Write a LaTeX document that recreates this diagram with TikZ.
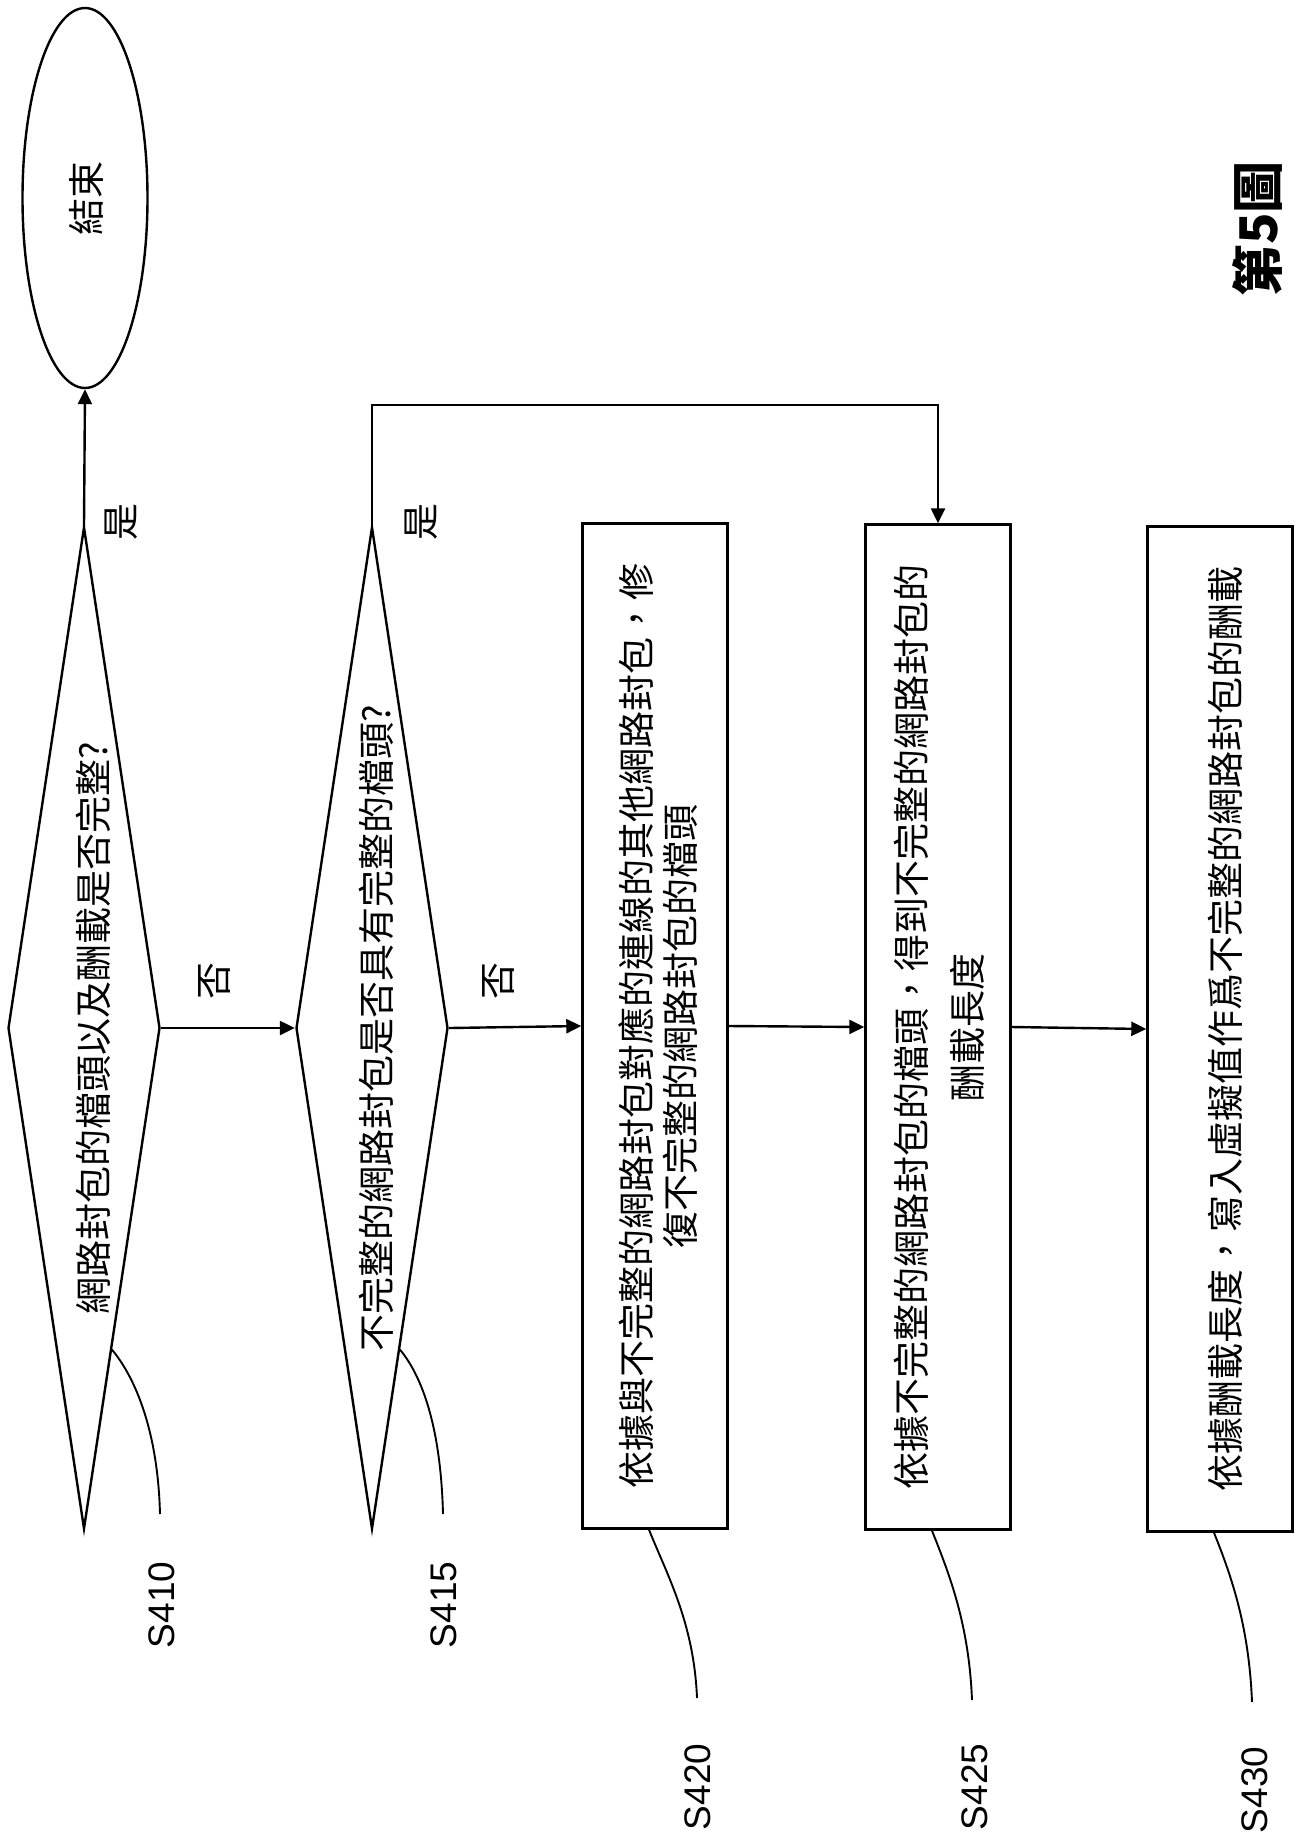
\documentclass[tikz,border=0pt]{standalone}
\usepackage{fontspec}
\usepackage{graphicx}
\setmainfont{Noto Sans CJK TC}
\newfontfamily\labfont{Liberation Sans}
\usetikzlibrary{arrows.meta,shapes.geometric,calc}
\newcommand{\vtxt}[2][6pt]{\rotatebox{90}{\raisebox{-#1}[\height][\depth]{%
  \begin{tabular}{@{}c@{}}#2\end{tabular}}}}
\tikzset{
  stepbox/.style={draw,line width=2.4pt,inner sep=0pt,
                  minimum width=145pt,minimum height=1005pt},
  decide/.style={draw,diamond,line width=2.4pt,inner sep=0pt,aspect=0.153,
                 minimum width=152pt,minimum height=1002pt},
  endnode/.style={draw,ellipse,line width=2.4pt,inner sep=0pt,
                  minimum width=125pt,minimum height=380pt},
  yn/.style={rotate=90,inner sep=0pt},
  steplbl/.style={rotate=90,inner sep=0pt,font=\labfont\fontsize{37}{40}\selectfont},
  fl/.style={line width=2.4pt,-{Triangle[length=15pt,width=14pt]}},
  lead/.style={line width=1.9pt},
}
\begin{document}
\begin{tikzpicture}[x=1pt,y=-1pt,font=\fontsize{37}{42}\selectfont]
  \useasboundingbox (0,0) rectangle (1306,1839);
  \node[endnode] (end) at (85,198) {\vtxt{結束}};
  \node[decide] (d1) at (84,1028) {\vtxt[14pt]{網路封包的檔頭以及酬載是否完整?}};
  \node[decide] (d2) at (372,1028) {\vtxt[9pt]{不完整的網路封包是否具有完整的檔頭?}};
  \node[stepbox] (b1) at (655,1026)
    {\vtxt[8pt]{依據與不完整的網路封包對應的連線的其他網路封包，修\\復不完整的網路封包的檔頭}};
  \node[stepbox] (b2) at (938,1027)
    {\vtxt{依據不完整的網路封包的檔頭，得到不完整的網路封包的\\[12pt]酬載長度}};
  \node[stepbox] (b3) at (1220,1029)
    {\vtxt[10pt]{依據酬載長度，寫入虛擬值作爲不完整的網路封包的酬載}};
  \node[yn] (y1) at (121,522) {是};
  \node[yn] (y2) at (421,522) {是};
  \node[yn] (n1) at (214,981) {否};
  \node[yn] (n2) at (498,981) {否};
  \draw[fl] (d1.north) -- (end.south);
  \foreach \a/\b in {d1/d2,d2/b1,b1/b2,b2/b3}
    \draw[fl] (\a.east) -- (\b.west);
  \coordinate (fbk) at (660,405);
  \draw[fl] (d2.north) |- (fbk) -| (b2.north);
  \node[steplbl] (s410) at (162,1605) {S410};
  \node[steplbl] (s415) at (444,1605) {S415};
  \node[steplbl] (s420) at (698,1787) {S420};
  \node[steplbl] (s425) at (975,1787) {S425};
  \node[steplbl] (s430) at (1255,1790) {S430};
  \coordinate (e410) at (160,1514);
  \coordinate (e415) at (443,1514);
  \coordinate (e420) at (697,1698);
  \coordinate (e425) at (972,1700);
  \coordinate (e430) at (1252,1702);
  \foreach \n/\e in {d1/e410,d2/e415}
    \draw[lead] ($(\n.east)!0.64!(\n.south)$) .. controls +(25,30) and +(-2,-80) .. (\e);
  \foreach \n/\e in {b1/e420,b2/e425,b3/e430}
    \draw[lead] ($(\n.south)+(-6,0)$) .. controls +(18,45) and +(-3,-75) .. (\e);
  \node[rotate=90,font=\bfseries\fontsize{52}{56}\selectfont] (fig) at (1257,229) {第5圖};
\end{tikzpicture}
\end{document}
